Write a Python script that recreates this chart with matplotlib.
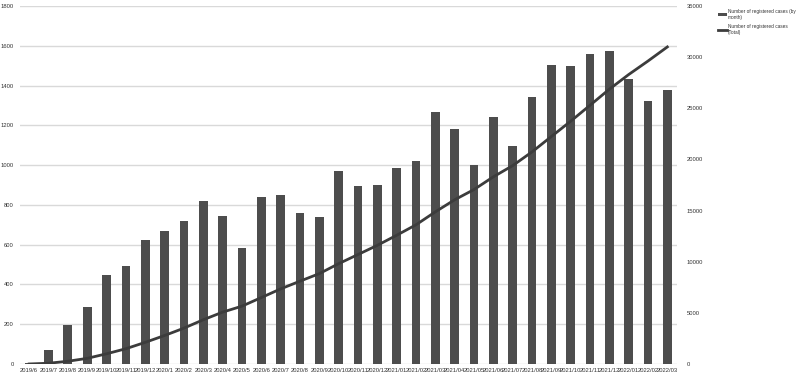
import numpy as np
import matplotlib.pyplot as plt

plt.rcParams['font.family'] = ['Liberation Sans Narrow', 'Liberation Sans', 'DejaVu Sans']

months = ['2019/6', '2019/7', '2019/8', '2019/9', '2019/10', '2019/11', '2019/12',
          '2020/1', '2020/2', '2020/3', '2020/4', '2020/5', '2020/6', '2020/7',
          '2020/8', '2020/9', '2020/10', '2020/11', '2020/12',
          '2021/01', '2021/02', '2021/03', '2021/04', '2021/05', '2021/06',
          '2021/07', '2021/08', '2021/09', '2021/10', '2021/11', '2021/12',
          '2022/01', '2022/02', '2022/03']

by_month = [3, 70, 195, 285, 445, 495, 622,
            670, 718, 820, 745, 585, 838, 848, 757, 737, 972, 895, 898,
            985, 1022, 1265, 1183, 1000, 1242, 1097, 1340, 1503, 1498, 1558, 1573,
            1433, 1323, 1378]

total = [3, 73, 268, 553, 998, 1493, 2115,
         2785, 3503, 4323, 5068, 5653, 6491, 7339, 8096, 8833, 9805, 10700, 11598,
         12583, 13605, 14870, 16053, 17053, 18295, 19392, 20732, 22235, 23733,
         25291, 26864, 28297, 29620, 30998]

fig = plt.figure(figsize=(8, 3.79), dpi=100)
ax1 = fig.add_axes([19.5 / 800, 15 / 379, 657.5 / 800, 358 / 379])
ax2 = ax1.twinx()

x = np.arange(len(months))
bars = ax1.bar(x, by_month, width=0.45, color='#4d4d4d', zorder=3,
               label='Number of registered cases (by\nmonth)')
line, = ax2.plot(x, total, color='#3c3c3c', lw=2, zorder=4,
                 label='Number of registered cases\n(Total)')

ax1.set_xlim(-0.5, len(months) - 0.5)
ax1.set_ylim(0, 1800)
ax1.set_yticks(range(0, 1801, 200))
ax2.set_ylim(0, 35000)
ax2.set_yticks(range(0, 35001, 5000))
ax1.grid(axis='y', color='#d9d9d9', lw=1, zorder=0)
ax1.set_xticks(x)
ax1.set_xticklabels(months)

for a in (ax1, ax2):
    for s in a.spines.values():
        s.set_visible(False)
    a.tick_params(length=0, labelsize=4.2, colors='#333333')
ax1.tick_params(axis='x', pad=3)
ax1.tick_params(axis='y', pad=4)
ax2.tick_params(axis='y', pad=7)

fig.legend([bars, line], [bars.get_label(), line.get_label()],
           loc='upper left', bbox_to_anchor=(716 / 800, 1 - 7 / 379),
           frameon=False, fontsize=3.4, handlelength=2.0, handletextpad=0.15,
           borderaxespad=0, labelspacing=0.9, labelcolor='#333333')

fig.savefig('out.png', dpi=100)
